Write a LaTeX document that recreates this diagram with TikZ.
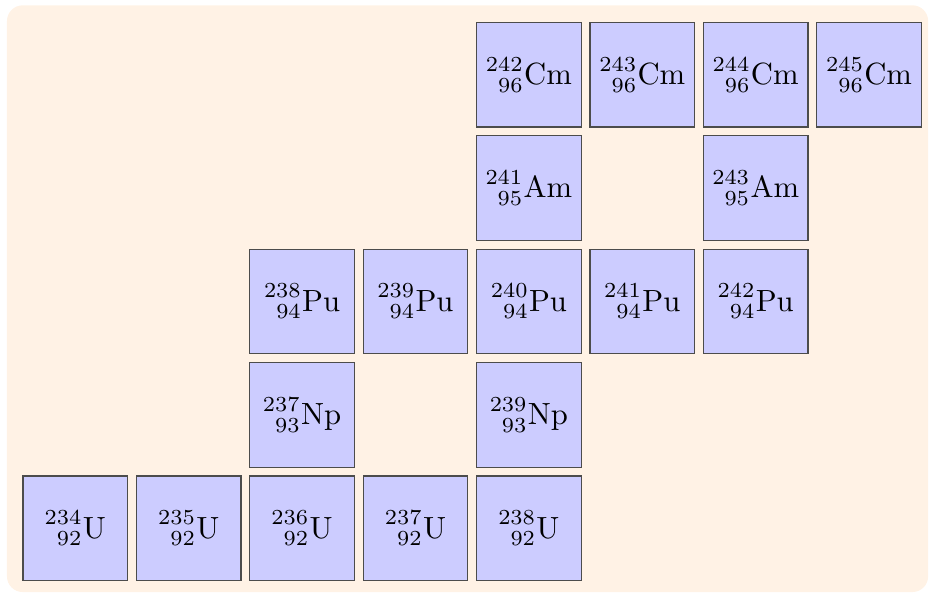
\documentclass[tikz,border=0pt]{standalone}
\usepackage{mathtools}
\newcommand\isot[3]{$\prescript{#1}{#2}{\mathrm{#3}}$}
\tikzset{
  nuc/.style={draw=black!70, fill=blue!20, minimum width=1.2cm, minimum height=1.2cm, inner sep=0pt, outer sep=0pt},
}
\begin{document}
\begin{tikzpicture}
\useasboundingbox (0,0) rectangle (10.650,6.798);
\fill[orange!10, rounded corners=0.18cm] (0.080,0.011) rectangle (10.64,6.737);
\def\cx#1{0.863+1.3*#1}
\def\cy#1{5.942-1.3*#1}
% Cm row
\node[nuc] (Cm242) at ({\cx{4}},{\cy{0}}) {\isot{242}{96}{Cm}};
\node[nuc] (Cm243) at ({\cx{5}},{\cy{0}}) {\isot{243}{96}{Cm}};
\node[nuc] (Cm244) at ({\cx{6}},{\cy{0}}) {\isot{244}{96}{Cm}};
\node[nuc] (Cm245) at ({\cx{7}},{\cy{0}}) {\isot{245}{96}{Cm}};
% Am row
\node[nuc] (Am241) at ({\cx{4}},{\cy{1}}) {\isot{241}{95}{Am}};
\node[nuc] (Am243) at ({\cx{6}},{\cy{1}}) {\isot{243}{95}{Am}};
% Pu row
\node[nuc] (Pu238) at ({\cx{2}},{\cy{2}}) {\isot{238}{94}{Pu}};
\node[nuc] (Pu239) at ({\cx{3}},{\cy{2}}) {\isot{239}{94}{Pu}};
\node[nuc] (Pu240) at ({\cx{4}},{\cy{2}}) {\isot{240}{94}{Pu}};
\node[nuc] (Pu241) at ({\cx{5}},{\cy{2}}) {\isot{241}{94}{Pu}};
\node[nuc] (Pu242) at ({\cx{6}},{\cy{2}}) {\isot{242}{94}{Pu}};
% Np row
\node[nuc] (Np237) at ({\cx{2}},{\cy{3}}) {\isot{237}{93}{Np}};
\node[nuc] (Np239) at ({\cx{4}},{\cy{3}}) {\isot{239}{93}{Np}};
% U row
\node[nuc] (U234) at ({\cx{0}},{\cy{4}}) {\isot{234}{92}{U}};
\node[nuc] (U235) at ({\cx{1}},{\cy{4}}) {\isot{235}{92}{U}};
\node[nuc] (U236) at ({\cx{2}},{\cy{4}}) {\isot{236}{92}{U}};
\node[nuc] (U237) at ({\cx{3}},{\cy{4}}) {\isot{237}{92}{U}};
\node[nuc] (U238) at ({\cx{4}},{\cy{4}}) {\isot{238}{92}{U}};
\end{tikzpicture}
\end{document}
